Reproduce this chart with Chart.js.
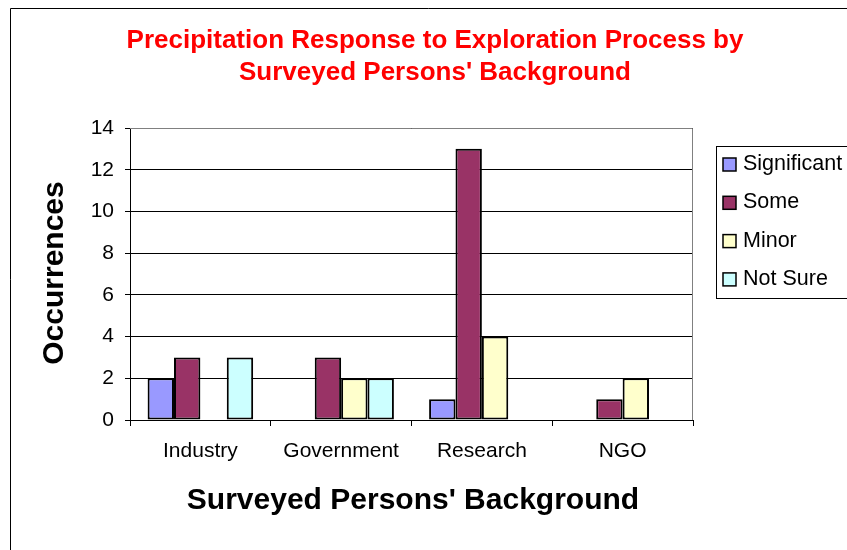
<!DOCTYPE html>
<html lang="en">
  <head>
    <meta charset="UTF-8" />
    <script src="https://cdn.jsdelivr.net/npm/chart.js"></script>
    <title>Precipitation Response by Background</title>
    <style>
      body { margin: 0; background: #fff; }
    </style>
  </head>
  <body>
    <div style="width: 847px; height: 550px; position: relative">
      <canvas id="grafico" width="847" height="550"></canvas>
    </div>

    <script>
      // data
      const categorias = ["Industry", "Government", "Research", "NGO"];
      const significant = [2, 0, 1, 0];
      const some = [3, 3, 13, 1];
      const minor = [0, 2, 4, 2];
      const notSure = [3, 2, 0, 0];
      const yTicks = [0, 2, 4, 6, 8, 10, 12, 14];

      const titulo = ["Precipitation Response to Exploration Process by", "Surveyed Persons' Background"];
      const tituloX = "Surveyed Persons' Background";
      const tituloY = "Occurrences";

      const FONT = "'Liberation Sans', Arial, sans-serif";

      // bars with value 0 get no outline, like the original sheet
      const borda = (c) => (c.raw === 0 ? 0 : 2);

      // title, axis titles, frame and legend drawn by hand
      const extras = {
        id: "extras",
        afterDraw(chart) {
          const c = chart.ctx;
          const a = chart.chartArea;
          c.save();

          // outer frame (only left and top show)
          c.strokeStyle = "#000";
          c.lineWidth = 1;
          c.beginPath();
          c.moveTo(10.5, 550);
          c.lineTo(10.5, 8.5);
          c.lineTo(847, 8.5);
          c.stroke();

          // plot area top/right edge in gray
          c.strokeStyle = "#808080";
          c.beginPath();
          c.moveTo(a.left, a.top + 0.5);
          c.lineTo(a.right - 0.5, a.top + 0.5);
          c.lineTo(a.right - 0.5, a.bottom);
          c.stroke();

          // title
          c.fillStyle = "#ff0000";
          c.font = "bold 26px " + FONT;
          c.textAlign = "center";
          c.textBaseline = "middle";
          c.fillText(titulo[0], 435, 41);
          c.fillText(titulo[1], 435, 73);

          // axis titles
          c.fillStyle = "#000";
          c.font = "bold 30px " + FONT;
          c.fillText(tituloX, 413, 501);
          c.save();
          c.translate(55, 273);
          c.rotate(-Math.PI / 2);
          c.fillText(tituloY, 0, 0);
          c.restore();

          // legend
          c.strokeStyle = "#000";
          c.lineWidth = 1;
          c.strokeRect(716.5, 146.5, 140, 152);
          c.font = "21.5px " + FONT;
          c.textAlign = "left";
          chart.data.datasets.forEach((ds, i) => {
            const y = 164 + i * 38.3;
            c.fillStyle = ds.backgroundColor;
            c.fillRect(723, y - 6, 13, 13);
            c.lineWidth = 1.5;
            c.strokeRect(723, y - 6, 13, 13);
            c.fillStyle = "#000";
            c.fillText(ds.label, 743, y);
          });
          c.restore();
        },
      };

      const ctx = document.getElementById("grafico");
      new Chart(ctx, {
        type: "bar",
        data: {
          labels: categorias,
          datasets: [
            { label: "Significant", data: significant, backgroundColor: "#9999ff" },
            { label: "Some", data: some, backgroundColor: "#993366" },
            { label: "Minor", data: minor, backgroundColor: "#ffffcc" },
            { label: "Not Sure", data: notSure, backgroundColor: "#ccffff" },
          ].map((d) => ({
            ...d,
            borderColor: "#000",
            borderWidth: borda,
            borderSkipped: false,
            categoryPercentage: 0.75,
            barPercentage: 1,
          })),
        },
        options: {
          responsive: false,
          animation: false,
          devicePixelRatio: 1,
          layout: { padding: { top: 128, right: 154, left: 0, bottom: 0 } },
          plugins: {
            legend: { display: false },
            title: { display: false },
            tooltip: { enabled: false },
          },
          scales: {
            x: {
              afterFit: (s) => { s.height = 130; },
              grid: {
                offset: true,
                drawOnChartArea: false,
                drawTicks: true,
                tickLength: 6,
                color: "#000",
              },
              border: { display: true, color: "#000", width: 1 },
              ticks: {
                color: "#000",
                padding: 13,
                font: { family: FONT, size: 21 },
              },
            },
            y: {
              min: 0,
              max: 14,
              afterFit: (s) => { s.width = 130; },
              afterBuildTicks: (s) => { s.ticks = yTicks.map((v) => ({ value: v })); },
              grid: { color: "#000", tickLength: 5, drawTicks: true },
              border: { display: true, color: "#000", width: 1 },
              ticks: {
                color: "#000",
                padding: 11,
                font: { family: FONT, size: 21 },
              },
            },
          },
        },
        plugins: [extras],
      });
    </script>
  </body>
</html>
